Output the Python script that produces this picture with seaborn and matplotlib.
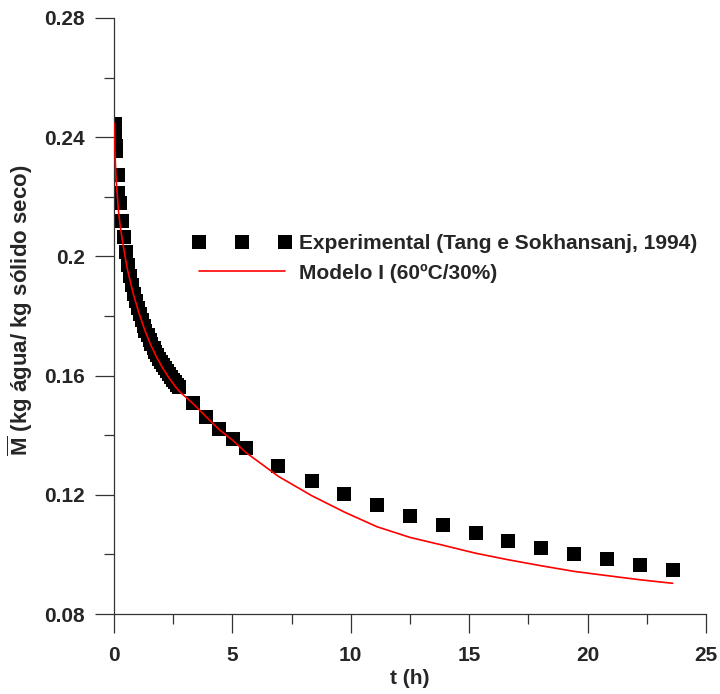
import matplotlib
matplotlib.use("Agg")
import matplotlib.pyplot as plt
import seaborn as sns
import pandas as pd
from matplotlib.ticker import MultipleLocator

# Experimental data (Tang e Sokhansanj, 1994)
t_exp = [0.03, 0.05, 0.05, 0.07, 0.08, 0.15, 0.18,
         0.25, 0.33, 0.42, 0.50, 0.58, 0.67, 0.75, 0.83, 0.92, 1.00,
         1.08, 1.17, 1.25, 1.33, 1.42, 1.50, 1.58, 1.67, 1.75, 1.83,
         1.92, 2.00, 2.08, 2.17, 2.25, 2.33, 2.42, 2.50, 2.58, 2.67, 2.75,
         3.35, 3.89, 4.44, 5.01, 5.57, 6.94, 8.35, 9.73, 11.10, 12.50,
         13.88, 15.27, 16.65, 18.03, 19.43, 20.80, 22.20, 23.59]
m_exp = [0.2444, 0.2420, 0.2395, 0.2370, 0.2354, 0.2273, 0.2213,
         0.2178, 0.2120, 0.2065, 0.2015, 0.1972, 0.1935, 0.1903, 0.1875, 0.1850, 0.1827,
         0.1806, 0.1786, 0.1768, 0.1751, 0.1735, 0.1720, 0.1706, 0.1693, 0.1680, 0.1668,
         0.1656, 0.1645, 0.1634, 0.1624, 0.1614, 0.1604, 0.1595, 0.1586, 0.1577, 0.1569, 0.1561,
         0.1507, 0.1461, 0.1421, 0.1386, 0.1358, 0.1297, 0.1246, 0.1203, 0.1165, 0.1130,
         0.1098, 0.1071, 0.1045, 0.1021, 0.1001, 0.0984, 0.0966, 0.0948]

# Model I (60ºC/30%)
t_mod = [0.00, 0.03, 0.05, 0.08, 0.15, 0.18,
         0.25, 0.33, 0.42, 0.50, 0.58, 0.67, 0.75, 0.83, 0.92, 1.00,
         1.08, 1.17, 1.25, 1.33, 1.42, 1.50, 1.58, 1.67, 1.75, 1.83,
         1.92, 2.00, 2.08, 2.17, 2.25, 2.33, 2.42, 2.50, 2.58, 2.67, 2.75,
         3.35, 3.89, 4.44, 5.01, 5.57, 6.94, 8.35, 9.73, 11.10, 12.50,
         13.88, 15.27, 16.65, 18.03, 19.43, 20.80, 22.20, 23.59]
m_mod = [0.2448, 0.2370, 0.2330, 0.2270, 0.2195, 0.2160,
         0.2110, 0.2065, 0.2022, 0.1985, 0.1952, 0.1922, 0.1895, 0.1870, 0.1846, 0.1824,
         0.1803, 0.1783, 0.1764, 0.1746, 0.1729, 0.1713, 0.1698, 0.1684, 0.1670, 0.1657,
         0.1645, 0.1633, 0.1622, 0.1611, 0.1601, 0.1591, 0.1582, 0.1573, 0.1564, 0.1556, 0.1548,
         0.1505, 0.1462, 0.1419, 0.1383, 0.1342, 0.1262, 0.1197, 0.1142, 0.1093, 0.1057,
         0.1031, 0.1004, 0.0982, 0.0962, 0.0943, 0.0929, 0.0915, 0.0903]

x_ticks = [0, 5, 10, 15, 20, 25]
y_ticks = [0.08, 0.12, 0.16, 0.2, 0.24, 0.28]
y_tick_labels = ["0.08", "0.12", "0.16", "0.2", "0.24", "0.28"]

sns.set_theme(style="ticks")
plt.rcParams["font.family"] = ["Liberation Sans", "DejaVu Sans"]
plt.rcParams["font.weight"] = "bold"
plt.rcParams["mathtext.fontset"] = "custom"
plt.rcParams["mathtext.rm"] = "Liberation Sans:bold"
plt.rcParams["mathtext.bf"] = "Liberation Sans:bold"

df_exp = pd.DataFrame({"t": t_exp, "M": m_exp})
df_mod = pd.DataFrame({"t": t_mod, "M": m_mod})

fig = plt.figure(figsize=(7.2, 6.94), dpi=100)
ax = fig.add_axes([114 / 720, 1 - 614 / 694, (706 - 114) / 720, (614 - 18) / 694])

sns.scatterplot(data=df_exp, x="t", y="M", marker="s", s=105, color="black",
                linewidth=0, ax=ax, label="Experimental (Tang e Sokhansanj, 1994)",
                zorder=2)
sns.lineplot(data=df_mod, x="t", y="M", color="red", linewidth=1.2, sort=False,
             estimator=None, ax=ax, label="Modelo I (60ºC/30%)", zorder=3)

ax.set_xlim(0, 25)
ax.set_ylim(0.08, 0.28)
ax.set_xticks(x_ticks)
ax.set_xticklabels([str(v) for v in x_ticks])
ax.set_yticks(y_ticks)
ax.set_yticklabels(y_tick_labels)
ax.xaxis.set_minor_locator(MultipleLocator(2.5))
ax.yaxis.set_minor_locator(MultipleLocator(0.02))
ax.tick_params(axis="both", which="major", direction="out", length=14, width=0.9,
               labelsize=15, color="#333333")
ax.tick_params(axis="x", which="major", pad=9)
ax.tick_params(axis="y", which="major", pad=7)
ax.tick_params(axis="both", which="minor", direction="out", length=7, width=0.9,
               color="#333333")
for lab in ax.get_xticklabels() + ax.get_yticklabels():
    lab.set_fontweight("bold")

for side in ["top", "right"]:
    ax.spines[side].set_visible(False)
for side in ["left", "bottom"]:
    ax.spines[side].set_linewidth(0.9)
    ax.spines[side].set_color("#333333")

ax.set_xlabel("t (h)", fontsize=15, fontweight="bold", labelpad=3)
ax.set_ylabel(r"$\overline{\mathrm{M}}$ (kg água/ kg sólido seco)", fontsize=16,
              fontweight="bold")
ax.yaxis.set_label_coords(-0.133, 0.51)

handles, labels = ax.get_legend_handles_labels()
leg = ax.legend(handles, labels, loc="center left",
                bbox_to_anchor=(193 / 720, 1 - 258.5 / 694),
                bbox_transform=fig.transFigure, frameon=False,
                scatterpoints=3, numpoints=3, scatteryoffsets=[0.5],
                handlelength=4.7, handletextpad=0.4, labelspacing=0.5,
                borderpad=0, borderaxespad=0, prop={"size": 15, "weight": "bold"})

fig.savefig("out.png", dpi=100)
